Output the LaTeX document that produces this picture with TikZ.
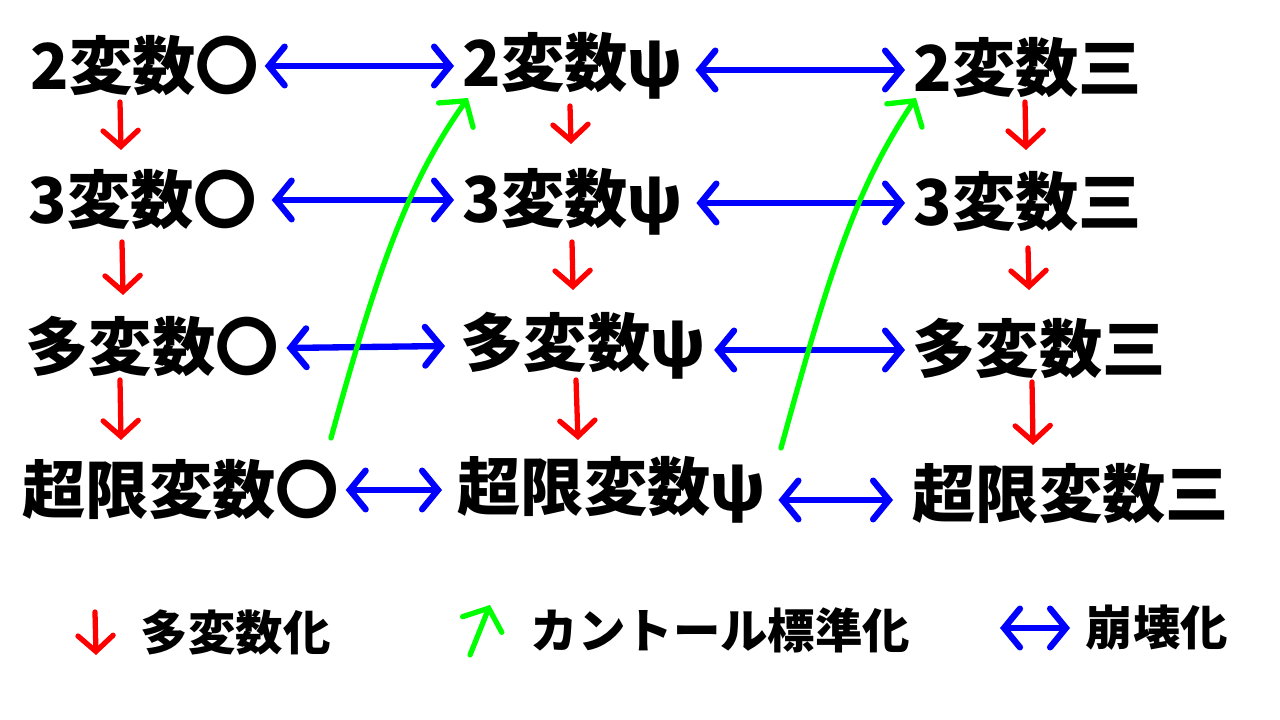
\documentclass[tikz,border=0pt]{standalone}
\usepackage{fontspec}
\setmainfont{Noto Sans CJK JP}
\usepackage{xcolor}
\definecolor{collapse}{HTML}{0000FF}
\definecolor{multi}{HTML}{FF0000}
\definecolor{cantor}{HTML}{00FF00}
\usepackage{tikz}
\usetikzlibrary{positioning, arrows.meta, calc}
\tikzset{
    term/.style = {anchor=west, inner sep=0pt, font=\fontsize{18}{20}\selectfont\bfseries},
    legend/.style = {anchor=west, inner sep=0pt, font=\fontsize{13.5}{15}\selectfont\bfseries},
    redarrow/.style = {-{Straight Barb[length=4.5pt, width=10pt, line cap=round]}, line width=1.5pt, line cap=round, color=multi},
    greenarrow/.style = {-{Straight Barb[length=5pt, width=12pt, line cap=round]}, line width=1.5pt, line cap=round, color=cantor},
    bluearrow/.style = {{Straight Barb[length=4.5pt, width=11pt, line cap=round]}-{Straight Barb[length=4.5pt, width=11pt, line cap=round]}, line width=1.8pt, line cap=round, color=collapse},
}
\begin{document}
\begin{tikzpicture}
        \useasboundingbox (0,0) rectangle (12.8,-7.2);
        % column 1
        \node[term] (o2) at (0.30,-0.66) {2変数〇};
        \node[term] (o3) at (0.28,-2.00) {3変数〇};
        \node[term] (om) at (0.25,-3.46) {多変数〇};
        \node[term] (ot) at (0.22,-4.90) {超限変数〇};
        % column 2
        \node[term] (p2) at (4.62,-0.66) {2変数ψ};
        \node[term] (p3) at (4.62,-2.02) {3変数ψ};
        \node[term] (pm) at (4.60,-3.46) {多変数ψ};
        \node[term] (pt) at (4.57,-4.90) {超限変数ψ};
        % column 3
        \node[term] (s2) at (9.13,-0.68) {2変数三};
        \node[term] (s3) at (9.13,-2.02) {3変数三};
        \node[term] (sm) at (9.12,-3.48) {多変数三};
        \node[term] (st) at (9.12,-4.94) {超限変数三};
        % collapse
        \draw[bluearrow] ([xshift=0.05cm]o2.east |- 0,-0.66) -- ([xshift=-0.08cm]p2.west |- 0,-0.66);
        \draw[bluearrow] ([xshift=0.12cm]p2.east |- 0,-0.70) -- ([xshift=-0.08cm]s2.west |- 0,-0.70);
        \draw[bluearrow] ([xshift=0.14cm]o3.east |- 0,-2.00) -- ([xshift=-0.08cm]p3.west |- 0,-2.00);
        \draw[bluearrow] ([xshift=0.13cm]p3.east |- 0,-2.03) -- ([xshift=-0.08cm]s3.west |- 0,-2.03);
        \draw[bluearrow] ([xshift=0.07cm]om.east |- 0,-3.48) -- ([xshift=-0.15cm]pm.west |- 0,-3.46);
        \draw[bluearrow] ([xshift=0.08cm]pm.east |- 0,-3.50) -- ([xshift=-0.07cm]sm.west |- 0,-3.50);
        \draw[bluearrow] ([xshift=0.06cm]ot.east |- 0,-4.90) -- ([xshift=-0.15cm]pt.west |- 0,-4.90);
        \draw[bluearrow] ([xshift=0.12cm]pt.east |- 0,-5.00) -- ([xshift=-0.19cm]st.west |- 0,-5.00);
        % multivariate
        \draw[redarrow] (1.20,-1.02) -- (1.21,-1.50);
        \draw[redarrow] (1.22,-2.42) -- (1.23,-2.95);
        \draw[redarrow] (1.20,-3.80) -- (1.21,-4.40);
        \draw[redarrow] (5.70,-1.06) -- (5.71,-1.44);
        \draw[redarrow] (5.72,-2.42) -- (5.73,-2.90);
        \draw[redarrow] (5.76,-3.80) -- (5.78,-4.40);
        \draw[redarrow] (10.25,-1.02) -- (10.26,-1.50);
        \draw[redarrow] (10.28,-2.48) -- (10.29,-2.90);
        \draw[redarrow] (10.32,-3.82) -- (10.33,-4.45);
        % cantor
        \draw[greenarrow] (3.31,-4.38) .. controls (3.80,-2.60) and (4.10,-1.80) .. (4.68,-0.98);
        \draw[greenarrow] (7.81,-4.48) .. controls (8.30,-2.70) and (8.55,-1.90) .. (9.16,-0.98);
        % legend
        \coordinate (r0) at (0.95,-6.12);
        \coordinate (r1) at (0.96,-6.55);
        \draw[redarrow] (r0) -- (r1);
        \node[legend] (lr) at (1.40,-6.32) {多変数化};
        \coordinate (g0) at (4.70,-6.55);
        \coordinate (g1) at (4.90,-6.05);
        \draw[greenarrow] (g0) -- (g1);
        \node[legend] (lg) at (5.30,-6.30) {カントール標準化};
        \coordinate (b0) at (10.00,-6.28);
        \coordinate (b1) at (10.70,-6.28);
        \draw[bluearrow] (b0) -- (b1);
        \node[legend] (lb) at (10.85,-6.28) {崩壊化};
      \end{tikzpicture}
\end{document}
